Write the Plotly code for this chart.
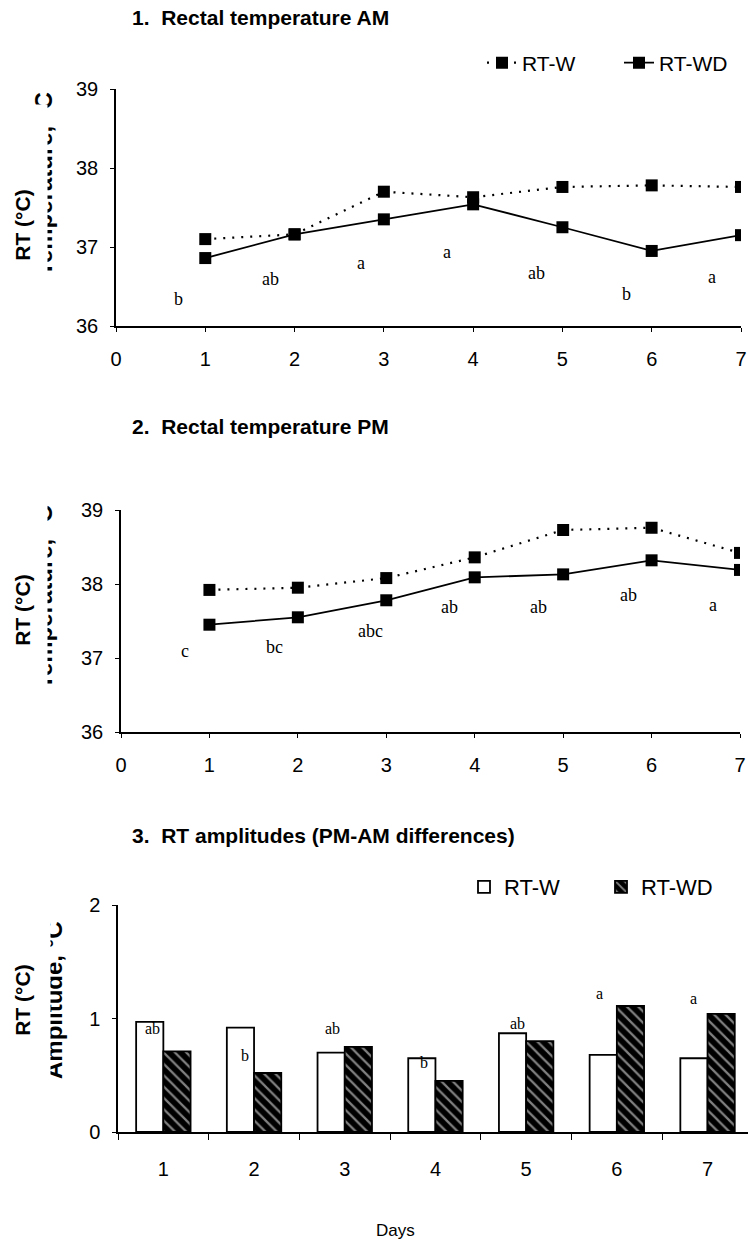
import plotly.graph_objects as go

# ---------------- data ----------------
days = [1, 2, 3, 4, 5, 6, 7]
am_w = [37.10, 37.16, 37.70, 37.63, 37.76, 37.78, 37.76]
am_wd = [36.86, 37.16, 37.35, 37.54, 37.25, 36.95, 37.15]
pm_w = [37.92, 37.95, 38.08, 38.36, 38.73, 38.76, 38.42]
pm_wd = [37.45, 37.55, 37.78, 38.09, 38.13, 38.32, 38.19]
amp_w = [0.97, 0.92, 0.70, 0.65, 0.87, 0.68, 0.65]
amp_wd = [0.71, 0.52, 0.75, 0.45, 0.80, 1.11, 1.04]

am_letters = ["b", "ab", "a", "a", "ab", "b", "a"]
am_letter_x = [0.70, 1.73, 2.74, 3.71, 4.71, 5.72, 6.67]
am_letter_y = [36.34, 36.60, 36.80, 36.94, 36.67, 36.41, 36.62]

pm_letters = ["c", "bc", "abc", "ab", "ab", "ab", "a"]
pm_letter_x = [0.72, 1.74, 2.82, 3.72, 4.72, 5.74, 6.70]
pm_letter_y = [37.10, 37.15, 37.36, 37.69, 37.69, 37.85, 37.72]

amp_letters = ["ab", "b", "ab", "b", "ab", "a", "a"]
amp_letter_x = [0.875, 1.90, 2.86, 3.87, 4.91, 5.81, 6.84]
amp_letter_y = [0.91, 0.67, 0.91, 0.61, 0.96, 1.22, 1.18]

temp_ticks = [36, 37, 38, 39]
day_ticks = [0, 1, 2, 3, 4, 5, 6, 7]
amp_ticks = [0, 1, 2]

panel_titles = ["1.  Rectal temperature AM", "2.  Rectal temperature PM",
                "3.  RT amplitudes (PM-AM differences)"]
series_names = ["RT-W", "RT-WD"]

W, H = 748, 1249


def px(x):
    return x / W


def py(y):
    return 1 - y / H


SANS = "Liberation Sans, Arial, sans-serif"
SERIF = "Liberation Serif, Times New Roman, serif"

fig = go.Figure()

dotted = dict(color="black", width=2.2, dash="2px,7px")
solid = dict(color="black", width=1.8)
sq = dict(symbol="square", size=12, color="black")

# ---- panel 1 ----
fig.add_trace(go.Scatter(x=days, y=am_w, name=series_names[0], mode="lines+markers",
                         line=dotted, marker=sq, xaxis="x", yaxis="y", legend="legend"))
fig.add_trace(go.Scatter(x=days, y=am_wd, name=series_names[1], mode="lines+markers",
                         line=solid, marker=sq, xaxis="x", yaxis="y", legend="legend"))
# ---- panel 2 ----
fig.add_trace(go.Scatter(x=days, y=pm_w, name=series_names[0], mode="lines+markers",
                         line=dotted, marker=sq, xaxis="x2", yaxis="y2", showlegend=False))
fig.add_trace(go.Scatter(x=days, y=pm_wd, name=series_names[1], mode="lines+markers",
                         line=solid, marker=sq, xaxis="x2", yaxis="y2", showlegend=False))
# ---- panel 3 ----
fig.add_trace(go.Bar(x=days, y=amp_w, name=series_names[0],
                     marker=dict(color="white", line=dict(color="black", width=1.8)),
                     xaxis="x3", yaxis="y3", legend="legend2"))
fig.add_trace(go.Bar(x=days, y=amp_wd, name=series_names[1],
                     marker=dict(color="black", line=dict(color="black", width=1.8),
                                 pattern=dict(shape="\\", fgcolor="white", bgcolor="black",
                                              size=8, solidity=0.28)),
                     xaxis="x3", yaxis="y3", legend="legend2"))

axis_common = dict(showline=True, linecolor="black", linewidth=1.5, showgrid=False,
                   zeroline=False, ticks="outside", tickcolor="black", ticklen=4,
                   tickwidth=1.2, automargin=False,
                   tickfont=dict(family=SANS, size=20, color="black"))

fig.update_layout(
    width=W, height=H, margin=dict(l=0, r=0, t=0, b=0, autoexpand=False),
    paper_bgcolor="white", plot_bgcolor="white", showlegend=True,
    barmode="group", bargap=0.4, bargroupgap=0,
    xaxis=dict(domain=[px(116), px(741)], range=[0, 7], tickvals=day_ticks,
               anchor="y", ticklabelstandoff=10, **axis_common),
    yaxis=dict(domain=[py(326), py(89)], range=[36, 39], tickvals=temp_ticks,
               anchor="x", ticklabelstandoff=8, **axis_common),
    xaxis2=dict(domain=[px(121), px(740)], range=[0, 7], tickvals=day_ticks,
                anchor="y2", ticklabelstandoff=10, **axis_common),
    yaxis2=dict(domain=[py(732), py(510)], range=[36, 39], tickvals=temp_ticks,
                anchor="x2", ticklabelstandoff=8, **axis_common),
    xaxis3=dict(domain=[px(118), 1.0], range=[0.5, 0.5 + (W - 118) / 90.7],
                tickvals=days, anchor="y3",
                **{**axis_common, "ticks": ""}, ticklabelstandoff=18,
                minor=dict(tickvals=[0.5, 1.5, 2.5, 3.5, 4.5, 5.5, 6.5], ticks="outside",
                           ticklen=6, tickcolor="black", tickwidth=1.2)),
    yaxis3=dict(domain=[py(1132), py(905)], range=[0, 2], tickvals=amp_ticks,
                anchor="x3", ticklabelstandoff=8, **axis_common),
    legend=dict(orientation="h", x=px(482), y=py(63), xanchor="left", yanchor="middle",
                font=dict(family=SANS, size=21, color="black"), bgcolor="rgba(0,0,0,0)",
                entrywidth=92, entrywidthmode="pixels"),
    legend2=dict(orientation="h", x=px(464), y=py(887), xanchor="left", yanchor="middle",
                 font=dict(family=SANS, size=22, color="black"), bgcolor="rgba(0,0,0,0)",
                 entrywidth=92, entrywidthmode="pixels"),
)

ann = []
# panel titles
for t, yy in zip(panel_titles, [17, 426, 836]):
    ann.append(dict(text="<b>" + t + "</b>", x=px(130), y=py(yy), xref="paper", yref="paper",
                    xanchor="left", yanchor="middle", showarrow=False,
                    font=dict(family=SANS, size=21, color="black")))

# ghost (partly hidden) original axis titles; the RT (°C) label box covers them
ghosts = [("Temperature, °C", 43, 184, 47), ("Temperature, °C", 43, 597, 47),
          ("Amplitude, °C", 53, 1000, 50)]
for (gt, gx, gy, edge) in ghosts:
    ann.append(dict(text="<b>" + gt + "</b>", x=px(gx), y=py(gy), xref="paper", yref="paper",
                    xanchor="center", yanchor="middle", textangle=-90, showarrow=False,
                    font=dict(family=SANS, size=24, color="black")))
for (gt, gx, gy, edge), yy in zip(ghosts, [225, 610, 1000]):
    ann.append(dict(text="<b>RT (°C)</b>", x=px(22), y=py(yy), xref="paper", yref="paper",
                    xanchor="center", yanchor="middle", textangle=-90, showarrow=False,
                    width=240, height=2 * (edge - 22), bgcolor="white", borderpad=0,
                    font=dict(family=SANS, size=21, color="black")))

# significance letters
for lt, lx, ly in zip(am_letters, am_letter_x, am_letter_y):
    ann.append(dict(text=lt, x=lx, y=ly, xref="x", yref="y", showarrow=False,
                    font=dict(family=SERIF, size=18, color="black")))
for lt, lx, ly in zip(pm_letters, pm_letter_x, pm_letter_y):
    ann.append(dict(text=lt, x=lx, y=ly, xref="x2", yref="y2", showarrow=False,
                    font=dict(family=SERIF, size=18, color="black")))
for lt, lx, ly in zip(amp_letters, amp_letter_x, amp_letter_y):
    ann.append(dict(text=lt, x=lx, y=ly, xref="x3", yref="y3", showarrow=False,
                    font=dict(family=SERIF, size=16, color="black")))

ann.append(dict(text="Days", x=px(395), y=py(1230), xref="paper", yref="paper",
                xanchor="center", yanchor="middle",
                showarrow=False, font=dict(family=SANS, size=17, color="black")))

fig.update_layout(annotations=ann)
fig.write_html("out.html", config={"displayModeBar": False},
               post_script="document.body.style.margin='0';document.body.style.overflow='hidden';")
